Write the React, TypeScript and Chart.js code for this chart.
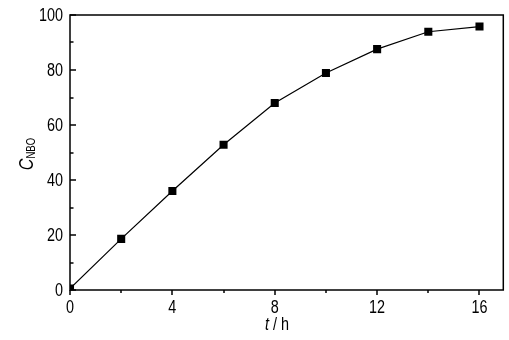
import React, { useEffect, useRef } from "react";
import { Chart, registerables } from "chart.js";

Chart.register(...registerables);

const timeH = [0, 2, 4, 6, 8, 10, 12, 14, 16];
const cNBO = [0.5, 18.6, 36, 52.8, 68, 78.9, 87.6, 93.9, 95.8];
const xMajorTicks = [0, 4, 8, 12, 16];
const xMinorTicks = [2, 6, 10, 14];
const yMajorTicks = [0, 20, 40, 60, 80, 100];
const yMinorTicks = [10, 30, 50, 70, 90];

const FONT = '"Liberation Sans", Arial, sans-serif';
const SQUEEZE = 0.8;

function condensedText(
  ctx: CanvasRenderingContext2D,
  text: string,
  x: number,
  y: number,
  align: "left" | "center" | "right"
) {
  const w = ctx.measureText(text).width * SQUEEZE;
  let sx = x;
  if (align === "center") sx = x - w / 2;
  else if (align === "right") sx = x - w;
  ctx.save();
  ctx.translate(sx, y);
  ctx.scale(SQUEEZE, 1);
  ctx.textAlign = "left";
  ctx.fillText(text, 0, 0);
  ctx.restore();
  return w;
}

const axesPlugin = {
  id: "customAxes",
  afterDraw(chart: any) {
    const ctx = chart.ctx as CanvasRenderingContext2D;
    const { left, right, top, bottom } = chart.chartArea;
    const xs = chart.scales.x;
    const ys = chart.scales.y;
    ctx.save();
    ctx.strokeStyle = "#000";
    ctx.fillStyle = "#000";
    ctx.lineWidth = 1.5;
    ctx.strokeRect(left, top, right - left, bottom - top);
    for (const v of xMajorTicks) {
      const px = Math.round(xs.getPixelForValue(v));
      ctx.beginPath();
      ctx.moveTo(px, bottom);
      ctx.lineTo(px, bottom + 5);
      ctx.stroke();
    }
    for (const v of xMinorTicks) {
      const px = Math.round(xs.getPixelForValue(v));
      ctx.beginPath();
      ctx.moveTo(px, bottom);
      ctx.lineTo(px, bottom + 3);
      ctx.stroke();
    }
    for (const v of yMajorTicks) {
      const py = Math.round(ys.getPixelForValue(v));
      ctx.beginPath();
      ctx.moveTo(left, py);
      ctx.lineTo(left + 6, py);
      ctx.stroke();
    }
    for (const v of yMinorTicks) {
      const py = Math.round(ys.getPixelForValue(v));
      ctx.beginPath();
      ctx.moveTo(left, py);
      ctx.lineTo(left + 3.5, py);
      ctx.stroke();
    }
    ctx.font = `18px ${FONT}`;
    ctx.textBaseline = "top";
    for (const v of xMajorTicks) {
      condensedText(ctx, String(v), xs.getPixelForValue(v), bottom + 9, "center");
    }
    ctx.textBaseline = "middle";
    for (const v of yMajorTicks) {
      condensedText(ctx, String(v), left - 7, ys.getPixelForValue(v) + 1, "right");
    }
    // x title: "t / h"
    const cx = 277;
    const ty = 325;
    ctx.textBaseline = "middle";
    ctx.font = `italic 18px ${FONT}`;
    const wT = ctx.measureText("t").width * SQUEEZE;
    ctx.font = `18px ${FONT}`;
    const wRest = ctx.measureText(" / h").width * SQUEEZE;
    const startX = cx - (wT + wRest) / 2;
    ctx.font = `italic 18px ${FONT}`;
    condensedText(ctx, "t", startX, ty, "left");
    ctx.font = `18px ${FONT}`;
    condensedText(ctx, " / h", startX + wT, ty, "left");
    // y title
    ctx.save();
    ctx.translate(27, 154);
    ctx.rotate(-Math.PI / 2);
    ctx.textBaseline = "middle";
    ctx.font = `italic 20px ${FONT}`;
    const wC = ctx.measureText("C").width * SQUEEZE;
    ctx.font = `12px ${FONT}`;
    const wSub = ctx.measureText("NBO").width * SQUEEZE;
    const sx = -(wC + wSub) / 2;
    ctx.font = `italic 20px ${FONT}`;
    condensedText(ctx, "C", sx, 0, "left");
    ctx.font = `12px ${FONT}`;
    condensedText(ctx, "NBO", sx + wC, 5, "left");
    ctx.restore();
    ctx.restore();
  },
};

export default function App() {
  const ref = useRef<HTMLCanvasElement | null>(null);
  useEffect(() => {
    document.body.style.margin = "0";
    const canvas = ref.current!;
    const chart = new Chart(canvas, {
      type: "line",
      data: {
        datasets: [
          {
            data: timeH.map((t, i) => ({ x: t, y: cNBO[i] })),
            borderColor: "#000",
            backgroundColor: "#000",
            borderWidth: 1.2,
            pointStyle: "rect",
            pointRadius: 5.7,
            pointBorderWidth: 0,
            pointBackgroundColor: "#000",
            tension: 0,
          },
        ],
      },
      options: {
        animation: false,
        responsive: false,
        maintainAspectRatio: false,
        layout: { padding: { left: 70, right: 4, top: 15, bottom: 50 } },
        plugins: { legend: { display: false }, tooltip: { enabled: false } },
        scales: {
          x: { type: "linear", min: 0, max: 16.93, display: false },
          y: { type: "linear", min: 0, max: 100, display: false },
        },
      },
      plugins: [axesPlugin],
    });
    return () => chart.destroy();
  }, []);
  return (
    <div style={{ width: 509, height: 340, background: "#fff" }}>
      <canvas ref={ref} width={509} height={340} style={{ display: "block" }} />
    </div>
  );
}
